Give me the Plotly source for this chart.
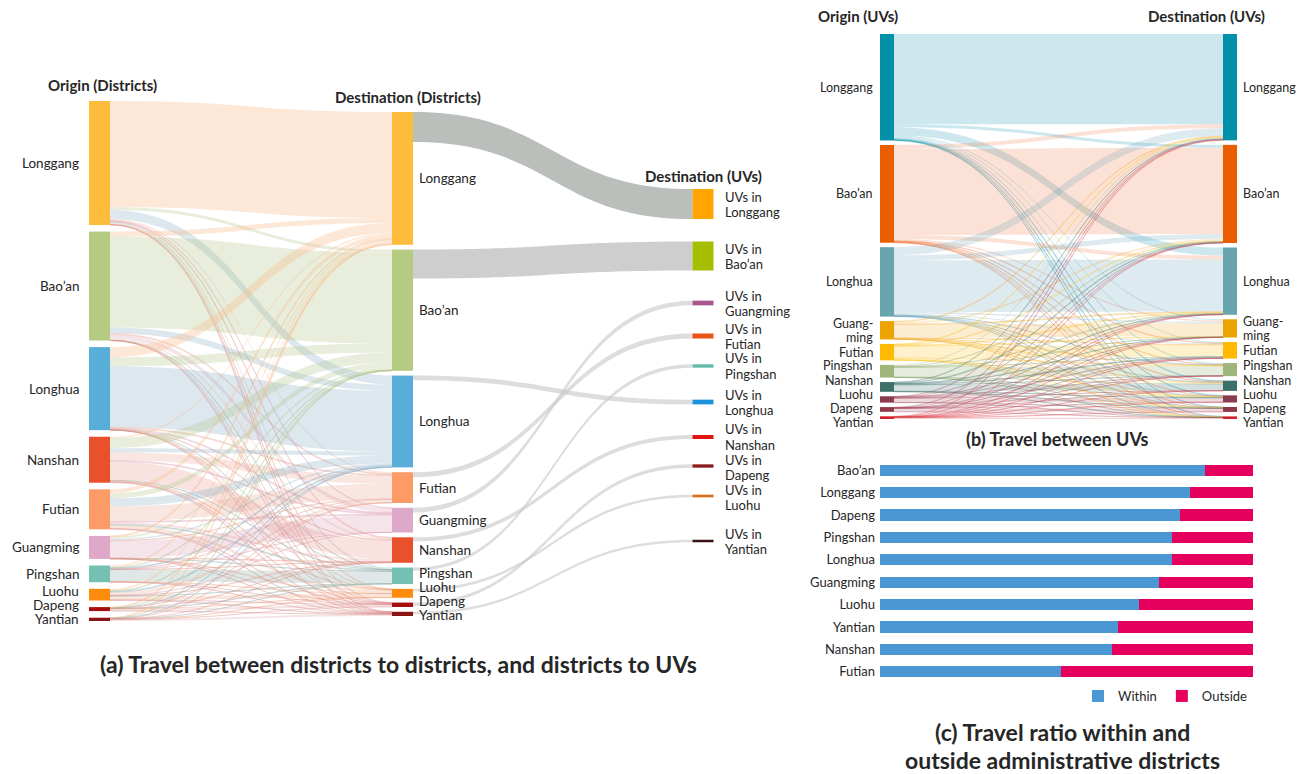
import plotly.graph_objects as go

FIG_W, FIG_H = 1311, 774
FONT = "Lato, 'Open Sans', sans-serif"
TXT = "#262626"

# ======================= DATA =======================
# (a) Origin districts -> destination districts -> destination UVs
origin_a = ["Longgang", "Bao’an", "Longhua", "Nanshan", "Futian", "Guangming",
            "Pingshan", "Luohu", "Dapeng", "Yantian"]
dest_a = ["Longgang", "Bao’an", "Longhua", "Futian", "Guangming", "Nanshan",
          "Pingshan", "Luohu", "Dapeng", "Yantian"]
uv_a = ["Longgang", "Bao’an", "Guangming", "Futian", "Pingshan", "Longhua",
        "Nanshan", "Dapeng", "Luohu", "Yantian"]
# rows follow origin_a, columns follow dest_a
flow_a = [
    [106, 3, 9, 1.5, 0.5, 1, 2, 0.5, 0.3, 0.2],
    [5, 91, 6, 1, 4, 1.5, 0.2, 0.1, 0.1, 0.1],
    [10, 9, 61, 1, 1, 0.5, 0.2, 0.1, 0.1, 0.1],
    [1.5, 10, 4, 8, 1, 19, 0.3, 1, 0.5, 0.7],
    [4, 5, 8, 15, 1, 2, 1, 3, 0.5, 0.5],
    [1, 2, 1.5, 0.5, 17, 0.5, 0.2, 0.1, 0.1, 0.1],
    [2, 0.5, 1, 0.3, 0.1, 0.2, 12, 0.2, 0.2, 0.2],
    [2, 0.5, 1, 3, 0.1, 0.5, 0.3, 3.5, 0.3, 0.5],
    [0.8, 0.1, 0.2, 0.2, 0, 0.1, 0.2, 0.1, 2.2, 0.1],
    [0.5, 0.1, 0.1, 0.3, 0, 0.1, 0.1, 0.3, 0.1, 1.7],
]
# destination district -> UVs in the same district (follows uv_a)
uv_flow_a = [30, 29, 4.7, 5, 3.3, 4.7, 4, 3.3, 2.7, 2.5]

# (b) Origin UVs -> destination UVs
uv_b = ["Longgang", "Bao’an", "Longhua", "Guangming", "Futian", "Pingshan",
        "Nanshan", "Luohu", "Dapeng", "Yantian"]
uv_b_labels = ["Longgang", "Bao’an", "Longhua", "Guang-<br>ming", "Futian", "Pingshan",
               "Nanshan", "Luohu", "Dapeng", "Yantian"]
flow_b = [
    [90, 3, 8, 1, 1, 1.5, 0.8, 0.5, 0.3, 0.2],
    [4, 86, 4, 1.5, 0.5, 0.3, 0.6, 0.3, 0.2, 0.2],
    [8, 5, 52, 1.5, 1, 0.5, 0.5, 0.4, 0.2, 0.2],
    [0.8, 2, 0.8, 13, 0.5, 0.3, 0.4, 0.2, 0.2, 0.1],
    [0.6, 0.5, 0.8, 0.4, 11.5, 0.5, 1, 0.7, 0.2, 0.2],
    [1.2, 0.3, 0.6, 0.2, 0.3, 9.5, 0.2, 0.2, 0.1, 0.1],
    [0.4, 0.8, 0.4, 0.3, 0.8, 0.1, 6.3, 0.3, 0.2, 0.1],
    [0.4, 0.2, 0.3, 0.1, 0.6, 0.2, 0.2, 4.1, 0.1, 0.1],
    [0.5, 0.1, 0.2, 0.1, 0.1, 0.1, 0.1, 0.1, 3.3, 0.1],
    [0.3, 0.1, 0.1, 0.1, 0.2, 0.1, 0.1, 0.3, 0.1, 1.3],
]

# (c) Travel ratio within / outside administrative districts
ratio_districts = ["Bao’an", "Longgang", "Dapeng", "Pingshan", "Longhua",
                   "Guangming", "Luohu", "Yantian", "Nanshan", "Futian"]
within_ratio = [0.871, 0.830, 0.805, 0.783, 0.784, 0.748, 0.695, 0.639, 0.622, 0.484]
outside_ratio = [0.129, 0.170, 0.195, 0.217, 0.216, 0.252, 0.305, 0.361, 0.378, 0.516]

# ======================= STYLES =======================
col_a = {"Longgang": "#FDBC3B", "Bao’an": "#B5CB82", "Longhua": "#58AED8",
         "Nanshan": "#E9502C", "Futian": "#FD9B67", "Guangming": "#DEA8C9",
         "Pingshan": "#74C0B3", "Luohu": "#FE8C0C", "Dapeng": "#A50F0F",
         "Yantian": "#8A1515"}
link_col_a = {"Longgang": "rgba(250,190,140,0.35)", "Bao’an": "rgba(180,195,140,0.30)",
              "Longhua": "rgba(140,175,200,0.30)", "Futian": "rgba(232,160,140,0.26)",
              "Guangming": "rgba(215,150,175,0.26)", "Nanshan": "rgba(225,140,130,0.24)",
              "Pingshan": "rgba(150,180,175,0.30)", "Luohu": "rgba(240,160,120,0.26)",
              "Dapeng": "rgba(220,130,130,0.22)", "Yantian": "rgba(215,125,125,0.22)"}
uv_col_a = {"Longgang": "#FFA400", "Bao’an": "#A5BF00", "Guangming": "#A9558F",
            "Futian": "#E85214", "Pingshan": "#5DBAA7", "Longhua": "#1B92D9",
            "Nanshan": "#E0140F", "Dapeng": "#8B1A1A", "Luohu": "#D6721A",
            "Yantian": "#3A1010"}
uv_link_col_a = {"Longgang": "rgba(170,175,170,0.80)", "Bao’an": "rgba(190,190,190,0.75)"}
uv_link_default = "rgba(200,200,200,0.62)"

col_b = {"Longgang": "#0090A8", "Bao’an": "#EB5E00", "Longhua": "#67A5AF",
         "Guangming": "#EBA300", "Futian": "#FFB900", "Pingshan": "#9FB57C",
         "Nanshan": "#3D7069", "Luohu": "#8B3A4F", "Dapeng": "#8E3A49",
         "Yantian": "#D2232A"}
link_col_b = {"Longgang": "rgba(0,140,170,0.20)", "Bao’an": "rgba(240,110,50,0.20)",
              "Longhua": "rgba(100,160,180,0.22)", "Guangming": "rgba(240,170,40,0.22)",
              "Futian": "rgba(255,190,20,0.22)", "Pingshan": "rgba(150,175,120,0.25)",
              "Nanshan": "rgba(60,115,110,0.22)", "Luohu": "rgba(160,70,90,0.20)",
              "Dapeng": "rgba(160,70,90,0.20)", "Yantian": "rgba(220,60,70,0.22)"}


def px_x(x):
    return x / FIG_W


def px_y(y):
    return 1 - y / FIG_H


def pack(values, ky, top, bottom):
    gap = (bottom - top - sum(values) * ky) / (len(values) - 1)
    centers, y = [], top
    for v in values:
        h = v * ky
        centers.append(y + h / 2)
        y += h + gap
    return centers


def spread(centers, texts, hi=None, line_h=14.0):
    """Push label centres apart so that the text lines do not collide."""
    hs = [line_h * (t.count("<br>") + 1) for t in texts]
    ys = list(centers)
    for i in range(1, len(ys)):
        need = ys[i - 1] + (hs[i - 1] + hs[i]) / 2
        if ys[i] < need:
            ys[i] = need
    if hi is not None and ys[-1] > hi:
        ys[-1] = hi
        for i in range(len(ys) - 2, -1, -1):
            need = ys[i + 1] - (hs[i] + hs[i + 1]) / 2
            if ys[i] > need:
                ys[i] = need
    return ys


annotations = []


def label(text, x, y, anchor, size=13, bold=False, line_h=None):
    """Text centred vertically at y (px); multi-line text is laid out line by line."""
    lines = text.split("<br>") if line_h else [text]
    n_l = len(lines)
    for k, ln in enumerate(lines):
        yy = y + (k - (n_l - 1) / 2) * (line_h or 0)
        annotations.append(dict(
            text=f"<b>{ln}</b>" if bold else ln, x=px_x(x), y=px_y(yy),
            xref="paper", yref="paper", xanchor=anchor, yanchor="middle",
            showarrow=False, borderpad=0,
            align="left" if anchor == "left" else ("right" if anchor == "right" else "center"),
            font=dict(family=FONT, size=size, color=TXT)))


fig = go.Figure()

# ======================= SANKEY (a) =======================
A_X0, A_X1, A_Y0, A_Y1 = 80, 720, 101, 621
A_W, A_H = A_X1 - A_X0, A_Y1 - A_Y0
A_PAD, A_THICK = 6.6, 21
a_col_px = [99.5, 402.5, 703]
mid_top, mid_bot = 11, 515
uv_centers_px = [204, 256, 303, 336, 366, 402, 437, 466, 496, 541]

n = len(origin_a)
origin_vals = [sum(r) for r in flow_a]
dest_in = [sum(flow_a[i][j] for i in range(n)) for j in range(n)]
dest_out = [uv_flow_a[uv_a.index(d)] for d in dest_a]
dest_vals = [max(a, b) for a, b in zip(dest_in, dest_out)]
ky_a = min((A_H - (n - 1) * A_PAD) / sum(c) for c in (origin_vals, dest_vals, uv_flow_a))

c0 = pack(origin_vals, ky_a, 0, A_H)
c1 = pack(dest_vals, ky_a, mid_top, mid_bot)
c2 = [y - A_Y0 for y in uv_centers_px]

node_x = [(a_col_px[0] - A_X0) / A_W] * n + [(a_col_px[1] - A_X0) / A_W] * n + [(a_col_px[2] - A_X0) / A_W] * n
node_y = [c / A_H for c in c0 + c1 + c2]
node_colors = [col_a[d] for d in origin_a] + [col_a[d] for d in dest_a] + [uv_col_a[d] for d in uv_a]
node_names = origin_a + dest_a + ["UVs in " + d for d in uv_a]

src, tgt, val, lcol = [], [], [], []
for i in range(n):
    for j in range(n):
        if flow_a[i][j] > 0:
            src.append(i); tgt.append(n + j); val.append(flow_a[i][j])
            lcol.append(link_col_a[dest_a[j]])
for k, d in enumerate(uv_a):
    src.append(n + dest_a.index(d)); tgt.append(2 * n + k); val.append(uv_flow_a[k])
    lcol.append(uv_link_col_a.get(d, uv_link_default))

fig.add_trace(go.Sankey(
    domain=dict(x=[px_x(A_X0), px_x(A_X1)], y=[px_y(A_Y1), px_y(A_Y0)]),
    arrangement="fixed",
    node=dict(label=[""] * len(node_names), customdata=node_names,
              hovertemplate="%{customdata}<extra></extra>",
              x=node_x, y=node_y, pad=A_PAD, thickness=A_THICK,
              color=node_colors, line=dict(width=0)),
    link=dict(source=src, target=tgt, value=val, color=lcol),
))

lab0 = spread([A_Y0 + c for c in c0], origin_a, hi=619)
for d, y in zip(origin_a, lab0):
    label(d, 80, y, "right", size=13.5)
lab1 = spread([A_Y0 + c for c in c1], dest_a, hi=615)
for d, y in zip(dest_a, lab1):
    label(d, 418, y, "left", size=13.5)
uv_texts = ["UVs in<br>" + d for d in uv_a]
lab2 = spread([A_Y0 + c for c in c2], uv_texts, line_h=15)
for t, y in zip(uv_texts, lab2):
    label(t, 724, y, "left", size=13, line_h=15)

label("Origin (Districts)", 102, 85, "center", size=15, bold=True)
label("Destination (Districts)", 408, 97, "center", size=15, bold=True)
label("Destination (UVs)", 703, 176, "center", size=15, bold=True)
label("(a) Travel between districts to districts, and districts to UVs", 398, 664, "center", size=23, bold=True)

# ======================= SANKEY (b) =======================
B_X0, B_X1, B_Y0, B_Y1 = 870, 1250, 34, 419
B_W, B_H = B_X1 - B_X0, B_Y1 - B_Y0
B_PAD, B_THICK = 4.5, 14
b_col_px = [887, 1230]
m = len(uv_b)
b_out = [sum(r) for r in flow_b]
b_in = [sum(flow_b[i][j] for i in range(m)) for j in range(m)]
ky_b = min((B_H - (m - 1) * B_PAD) / sum(c) for c in (b_out, b_in))
bc0 = pack(b_out, ky_b, 0, B_H)
bc1 = pack(b_in, ky_b, 0, B_H)

bsrc, btgt, bval, bcol = [], [], [], []
for i in range(m):
    for j in range(m):
        if flow_b[i][j] > 0:
            bsrc.append(i); btgt.append(m + j); bval.append(flow_b[i][j])
            bcol.append(link_col_b[uv_b[i]])

fig.add_trace(go.Sankey(
    domain=dict(x=[px_x(B_X0), px_x(B_X1)], y=[px_y(B_Y1), px_y(B_Y0)]),
    arrangement="fixed",
    node=dict(label=[""] * (2 * m), customdata=uv_b + uv_b,
              hovertemplate="%{customdata}<extra></extra>",
              x=[(b_col_px[0] - B_X0) / B_W] * m + [(b_col_px[1] - B_X0) / B_W] * m,
              y=[c / B_H for c in bc0 + bc1], pad=B_PAD, thickness=B_THICK,
              color=[col_b[d] for d in uv_b] * 2, line=dict(width=0)),
    link=dict(source=bsrc, target=btgt, value=bval, color=bcol),
))

B_LH = 14
blab0 = spread([B_Y0 + c for c in bc0], uv_b_labels, hi=422, line_h=B_LH)
for t, y in zip(uv_b_labels, blab0):
    label(t, 874, y, "right", size=12.5, line_h=B_LH)
blab1 = spread([B_Y0 + c for c in bc1], uv_b_labels, hi=422, line_h=B_LH)
for t, y in zip(uv_b_labels, blab1):
    label(t, 1242, y, "left", size=12.5, line_h=B_LH)

label("Origin (UVs)", 858, 16, "center", size=15, bold=True)
label("Destination (UVs)", 1206, 16, "center", size=15, bold=True)
label("(b) Travel between UVs", 1057, 439, "center", size=18, bold=True)

# ======================= BARS (c) =======================
fig.add_trace(go.Bar(y=ratio_districts, x=within_ratio, orientation="h", name="Within",
                     marker=dict(color="#4B97D3", line=dict(width=0))))
fig.add_trace(go.Bar(y=ratio_districts, x=outside_ratio, orientation="h", name="Outside",
                     marker=dict(color="#E5005E", line=dict(width=0))))

label("(c) Travel ratio within and", 1062, 732, "center", size=23, bold=True)
label("outside administrative districts", 1062, 760, "center", size=23, bold=True)

fig.update_layout(
    width=FIG_W, height=FIG_H, autosize=False,
    margin=dict(l=0, r=0, t=0, b=0),
    paper_bgcolor="white", plot_bgcolor="white",
    font=dict(family=FONT, size=13, color=TXT),
    barmode="stack", bargap=0.5,
    xaxis=dict(domain=[px_x(880), px_x(1253)], range=[0, 1], showticklabels=False,
               showgrid=False, zeroline=False, showline=False, fixedrange=True),
    yaxis=dict(domain=[px_y(683), px_y(459)], autorange="reversed", showgrid=False,
               zeroline=False, showline=False, ticks="", ticklabelstandoff=4,
               tickfont=dict(family=FONT, size=13, color=TXT)),
    showlegend=True,
    legend=dict(orientation="h", x=px_x(1078), y=px_y(696), xanchor="left", yanchor="middle",
                font=dict(family=FONT, size=13, color=TXT), bgcolor="rgba(0,0,0,0)",
                itemwidth=30, traceorder="normal"),
    annotations=annotations,
)

fig.write_html("out.html")
